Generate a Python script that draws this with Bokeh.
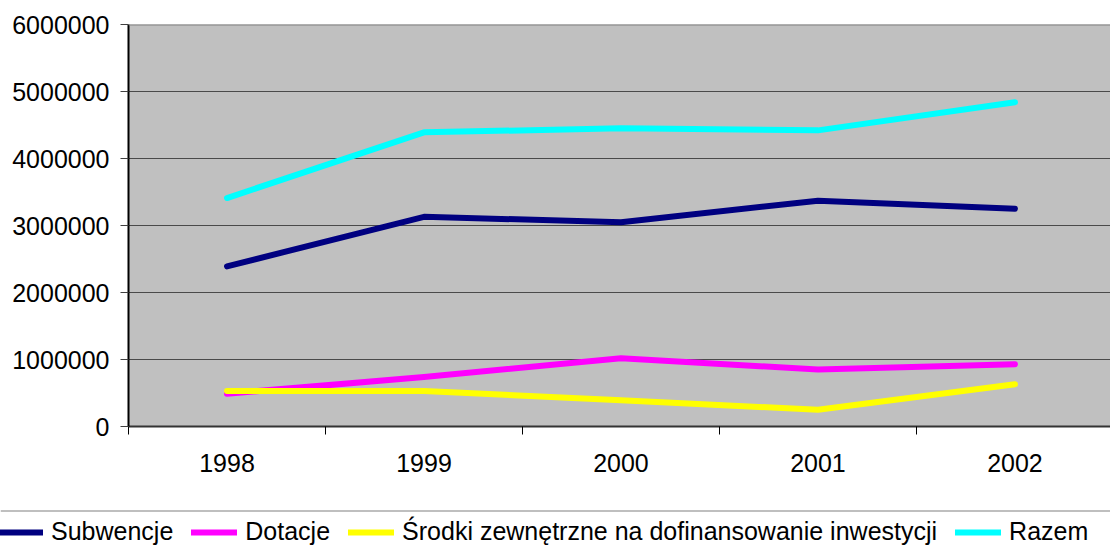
from bokeh.plotting import figure
from bokeh.models import Range1d, FixedTicker, Legend, LegendItem, NumeralTickFormatter, Span
from bokeh.embed import file_html
from bokeh.resources import INLINE

years = ["1998", "1999", "2000", "2001", "2002"]
subwencje = [2390000, 3130000, 3050000, 3370000, 3250000]
dotacje = [490000, 740000, 1020000, 850000, 930000]
srodki = [530000, 530000, 390000, 250000, 630000]
razem = [3410000, 4390000, 4450000, 4420000, 4840000]
y_ticks = [0, 1000000, 2000000, 3000000, 4000000, 5000000, 6000000]

series_names = ["Subwencje", "Dotacje", "Środki zewnętrzne na dofinansowanie inwestycji", "Razem"]
series_values = [subwencje, dotacje, srodki, razem]
series_colors = ["#000080", "#FF00FF", "#FFFF00", "#00FFFF"]

FONT = "Liberation Sans"
FS = "25px"
LW = 6

xs = list(range(len(years)))

p = figure(width=1110, height=510, output_backend="svg", toolbar_location=None,
           x_range=Range1d(-0.5, 4.485), y_range=Range1d(y_ticks[0], y_ticks[-1]),
           min_border_left=128, min_border_right=0, min_border_top=24, min_border_bottom=84)
p.background_fill_color = "#C0C0C0"
p.border_fill_color = "white"
p.outline_line_color = None

# x axis: labels at category centres, tick marks between categories
xa = p.xaxis[0]
xa.ticker = FixedTicker(ticks=xs, minor_ticks=[i - 0.5 for i in range(len(years) + 1)])
xa.major_label_overrides = {i: y for i, y in enumerate(years)}
xa.major_tick_out = 0
xa.major_tick_in = 0
xa.minor_tick_out = 8
xa.minor_tick_in = 0
xa.minor_tick_line_color = "black"
xa.minor_tick_line_width = 1
xa.axis_line_color = "#333333"
xa.axis_line_width = 2
xa.major_label_standoff = 19
xa.major_label_text_font = FONT
xa.major_label_text_font_size = FS
xa.major_label_text_color = "black"

# y axis
ya = p.yaxis[0]
ya.ticker = FixedTicker(ticks=y_ticks, minor_ticks=[])
ya.formatter = NumeralTickFormatter(format="0")
ya.major_tick_out = 8
ya.major_tick_in = 0
ya.major_tick_line_color = "#404040"
ya.axis_line_color = "black"
ya.axis_line_width = 2
ya.major_label_standoff = 11
ya.major_label_text_font = FONT
ya.major_label_text_font_size = FS
ya.major_label_text_color = "black"

p.xgrid.grid_line_color = None
p.ygrid.grid_line_color = "#4a4a4a"
p.ygrid.grid_line_width = 1

p.add_layout(Span(location=y_ticks[-1], dimension="width", line_color="#808080", line_width=2))

for vals, col in zip(series_values, series_colors):
    p.line(xs, vals, line_color=col, line_width=LW, line_cap="round", line_join="round")

# legend strip below the chart (separate root, so its frame spans the full width)
lg = figure(width=1110, height=40, output_backend="svg", toolbar_location=None,
            x_axis_type=None, y_axis_type=None,
            x_range=Range1d(0, 1), y_range=Range1d(0, 1),
            min_border_left=0, min_border_right=0, min_border_top=0, min_border_bottom=0)
lg.outline_line_color = None
lg.background_fill_color = "white"
lg.border_fill_color = "white"

items = []
for name, vals, col in zip(series_names, series_values, series_colors):
    r = lg.line(xs, vals, line_color=col, line_width=LW, line_cap="round", line_join="round")
    items.append(LegendItem(label=name, renderers=[r]))

legend = Legend(items=items, orientation="horizontal", location=(-3, 4),
                label_text_font=FONT, label_text_font_size=FS, label_text_color="black",
                glyph_width=46, glyph_height=28, label_standoff=8, spacing=18,
                padding=6, margin=0, border_line_color=None,
                background_fill_color="white", background_fill_alpha=1.0,
                label_height=28)
lg.add_layout(legend)
lg.add_layout(Span(location=1, dimension="width", line_color="#808080", line_width=2))

open("out.html", "w").write(file_html([p, lg], INLINE))
